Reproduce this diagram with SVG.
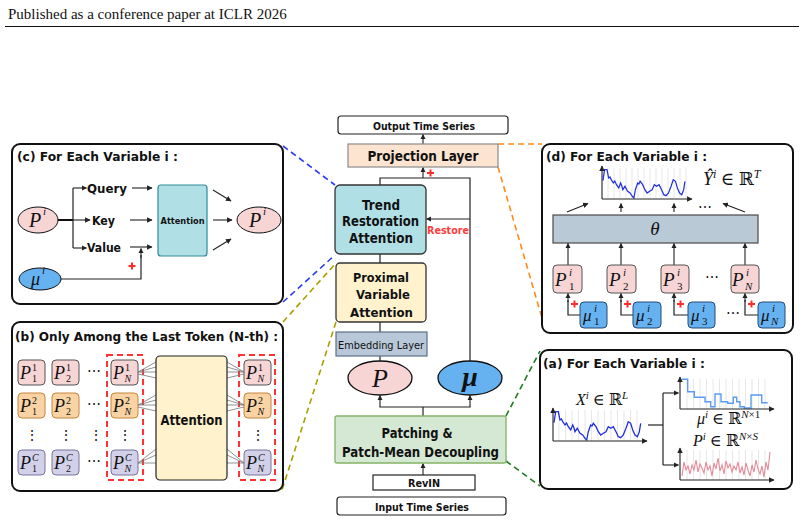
<svg xmlns="http://www.w3.org/2000/svg" width="804" height="522" viewBox="0 0 804 522">
<defs>
<style>
.lb{font-family:"DejaVu Sans",sans-serif;font-weight:bold;fill:#111;text-anchor:middle}
.tt{font-family:"DejaVu Sans",sans-serif;font-weight:bold;fill:#111}
.tx{font-family:"DejaVu Sans",sans-serif;fill:#111;text-anchor:middle}
.m{font-family:"Liberation Serif","DejaVu Serif",serif;fill:#111}
.mi{font-family:"Liberation Serif","DejaVu Serif",serif;font-style:italic;fill:#111}
.ln{stroke:#222;stroke-width:1.2;fill:none}
.ar{stroke:#222;stroke-width:1.1;fill:none;marker-end:url(#ah)}
.frame{fill:#fff;stroke:#111;stroke-width:2}
.plus{stroke:#ff2a2a;stroke-width:2}
.grid{stroke:#ddd;stroke-width:0.7}
.fan{stroke:#777;stroke-width:0.8}
.rd{fill:none;stroke:#ff3333;stroke-width:2;stroke-dasharray:6 4}
.pk{fill:#f8d5d5;stroke:#555;stroke-width:1}
.or{fill:#f9d3a3;stroke:#c4863a;stroke-width:1}
.lv{fill:#d3d1ea;stroke:#76749e;stroke-width:1}
.bl{fill:#66b2f0;stroke:#234a78;stroke-width:1}
</style>
<marker id="ah" viewBox="0 0 10 10" refX="9" refY="5" markerWidth="5" markerHeight="5" orient="auto"><path d="M0,0 L10,5 L0,10 z" fill="#222"/></marker>
<path id="wave" d="M554,422.7 L555.7,411.7 L558.3,411.7 L560,420 L561.5,419 L562.7,421.7 L565,425 L566.5,423 L568.3,426.7 L570.7,430 L572.7,425 L574,428 L575,431.7 L577.3,428.3 L580,433.3 L582.7,435 L585,438.3 L586.7,440 L588.3,431.7 L590.7,425 L592,426 L593.3,423.3 L596,426.7 L598.3,431.7 L600.7,435 L603.3,433.3 L606,431.7 L608.3,426.7 L610.7,428.3 L613.3,426.7 L616,431.7 L618.3,436.7 L620.7,437.7 L623.3,435 L626,428.3 L628.3,421.7 L630.7,423.3 L632.7,430 L635,435 L637.3,436.7 L639.3,431.7 L640.7,423.3"/>
</defs>
<rect width="804" height="522" fill="#fff"/>

<g id="header">
<text x="8" y="19" font-family="Liberation Serif,serif" font-size="15" fill="#111">Published as a conference paper at ICLR 2026</text>
<line x1="5" y1="26.5" x2="799" y2="26.5" stroke="#111" stroke-width="1"/>
</g>

<g id="connectors">
<line class="ar" x1="423" y1="144" x2="423" y2="134.5"/>
<polyline class="ln" points="380,185 380,178 470,178 470,362"/>
<line class="ar" x1="423" y1="178" x2="423" y2="167.5"/>
<line class="plus" x1="427" y1="173" x2="434" y2="173"/><line class="plus" x1="430.5" y1="169.5" x2="430.5" y2="176.5"/>
<line class="ar" x1="470" y1="219" x2="426.5" y2="219"/>
<line class="ln" x1="380" y1="254" x2="380" y2="263"/>
<line class="ln" x1="380" y1="322" x2="380" y2="332"/>
<line class="ln" x1="380" y1="356" x2="380" y2="361"/>
<polyline class="ln" points="423,416 423,407"/>
<line class="ln" x1="379.4" y1="407" x2="470.6" y2="407"/>
<line class="ar" x1="380" y1="407" x2="380" y2="395.5"/>
<line class="ar" x1="470" y1="407" x2="470" y2="395.5"/>
<line class="ar" x1="423" y1="475" x2="423" y2="463.5"/>
<line x1="283" y1="146" x2="335" y2="185" stroke="#2a3cf0" stroke-width="1.6" stroke-dasharray="6 4"/>
<line x1="283" y1="302" x2="335" y2="255" stroke="#2a3cf0" stroke-width="1.6" stroke-dasharray="6 4"/>
<line x1="283" y1="322" x2="336" y2="263" stroke="#a8a000" stroke-width="1.6" stroke-dasharray="6 4"/>
<line x1="336" y1="322" x2="282" y2="490" stroke="#a8a000" stroke-width="1.6" stroke-dasharray="6 4"/>
<line x1="498" y1="144" x2="542" y2="144" stroke="#ff8a1a" stroke-width="1.6" stroke-dasharray="6 4"/>
<line x1="498" y1="167" x2="542" y2="318" stroke="#ff8a1a" stroke-width="1.6" stroke-dasharray="6 4"/>
<line x1="506" y1="416" x2="540" y2="351" stroke="#1f7a1f" stroke-width="1.6" stroke-dasharray="6 4"/>
<line x1="506" y1="461" x2="540" y2="486" stroke="#1f7a1f" stroke-width="1.6" stroke-dasharray="6 4"/>
</g>

<g id="output">
<rect x="338" y="116" width="170" height="18" rx="3" fill="#fff" stroke="#222" stroke-width="1.2"/>
<text class="lb" x="424" y="129.5" font-size="10" textLength="102" lengthAdjust="spacingAndGlyphs">Output Time Series</text>
</g>
<g id="projection">
<rect x="348" y="144" width="150" height="23" fill="#fde4d0" stroke="#8a8a8a" stroke-width="1.2"/>
<text class="lb" x="423" y="161" font-size="14" textLength="111" lengthAdjust="spacingAndGlyphs">Projection Layer</text>
</g>
<g id="trend">
<rect x="335" y="185" width="91" height="69" rx="5" fill="#b0e0e6" stroke="#333" stroke-width="1.3"/>
<text class="lb" x="381" y="210" font-size="14" textLength="38" lengthAdjust="spacingAndGlyphs">Trend</text>
<text class="lb" x="380.5" y="226" font-size="14" textLength="77" lengthAdjust="spacingAndGlyphs">Restoration</text>
<text class="lb" x="381" y="243" font-size="14" textLength="64" lengthAdjust="spacingAndGlyphs">Attention</text>
<text x="448" y="234" font-family="DejaVu Sans,sans-serif" font-weight="bold" font-size="11" fill="#ff3b3b" text-anchor="middle" textLength="42" lengthAdjust="spacingAndGlyphs">Restore</text>
</g>
<g id="proximal">
<rect x="336" y="263" width="90" height="59" rx="4" fill="#fff2cc" stroke="#333" stroke-width="1.3"/>
<text class="lb" x="381" y="282" font-size="13" textLength="56" lengthAdjust="spacingAndGlyphs">Proximal</text>
<text class="lb" x="383" y="299" font-size="13" textLength="54" lengthAdjust="spacingAndGlyphs">Variable</text>
<text class="lb" x="381.5" y="317" font-size="13" textLength="63" lengthAdjust="spacingAndGlyphs">Attention</text>
</g>
<g id="embedding">
<rect x="336" y="332" width="91" height="24" fill="#b8c8d8" stroke="#5a6f8a" stroke-width="1.2"/>
<text class="lb" x="381" y="348.5" font-size="10" textLength="86" lengthAdjust="spacingAndGlyphs" style="font-weight:normal">Embedding Layer</text>
</g>
<g id="p-node">
<ellipse cx="380" cy="378" rx="32" ry="17" fill="#f8d5d5" stroke="#111" stroke-width="1.3"/>
<text class="mi" x="380" y="387" font-size="26" text-anchor="middle">P</text>
</g>
<g id="mu-node">
<ellipse cx="470" cy="378" rx="32" ry="17" fill="#66b2f0" stroke="#111" stroke-width="1.3"/>
<text class="mi" x="470" y="386" font-size="28" font-weight="bold" text-anchor="middle">μ</text>
</g>
<g id="patching">
<rect x="335" y="416" width="171" height="47" rx="2" fill="#d5e8d4" stroke="#82b366" stroke-width="1.3"/>
<text class="lb" x="417" y="438" font-size="14" textLength="71" lengthAdjust="spacingAndGlyphs">Patching &amp;</text>
<text class="lb" x="420.5" y="457" font-size="14" textLength="157" lengthAdjust="spacingAndGlyphs">Patch-Mean Decoupling</text>
</g>
<g id="revin">
<rect x="373" y="475" width="102" height="15" fill="#fff" stroke="#222" stroke-width="1.2"/>
<text class="lb" x="424" y="486.5" font-size="10" textLength="32" lengthAdjust="spacingAndGlyphs">RevIN</text>
</g>
<g id="input">
<rect x="337" y="497" width="169" height="18" rx="3" fill="#fff" stroke="#222" stroke-width="1.2"/>
<text class="lb" x="422" y="510.5" font-size="10" textLength="94" lengthAdjust="spacingAndGlyphs">Input Time Series</text>
</g>

<g id="panel-c">
<rect class="frame" x="12" y="144" width="271" height="160" rx="8"/>
<text class="tt" x="17" y="161" font-size="13" textLength="161" lengthAdjust="spacingAndGlyphs">(c) For Each Variable i :</text>
<ellipse cx="38" cy="220" rx="20" ry="13" fill="#f8d5d5" stroke="#111" stroke-width="1"/>
<text class="mi" x="29" y="227" font-size="20">P</text><text class="mi" x="43" y="215" font-size="11">i</text>
<line x1="58" y1="220" x2="73" y2="220" stroke="#111" stroke-width="2"/>
<line class="ln" x1="73" y1="188" x2="73" y2="248"/>
<line class="ar" x1="73" y1="188" x2="86.5" y2="188"/>
<line class="ar" x1="73" y1="220" x2="90" y2="220"/>
<line class="ar" x1="73" y1="248" x2="86.5" y2="248"/>
<text class="tx" x="107" y="193" font-size="13" textLength="40" lengthAdjust="spacingAndGlyphs" style="font-weight:600">Query</text>
<text class="tx" x="103.5" y="225" font-size="13" textLength="23" lengthAdjust="spacingAndGlyphs" style="font-weight:600">Key</text>
<text class="tx" x="104" y="252" font-size="13" textLength="34" lengthAdjust="spacingAndGlyphs" style="font-weight:600">Value</text>
<line class="ar" x1="132" y1="188" x2="152" y2="188"/>
<line class="ar" x1="130" y1="220" x2="152" y2="220"/>
<line class="ar" x1="130" y1="247" x2="152" y2="247"/>
<ellipse cx="40" cy="279" rx="21" ry="11" fill="#66b2f0" stroke="#111" stroke-width="1"/>
<text class="mi" x="31" y="285" font-size="18">μ</text><text class="mi" x="42" y="274" font-size="11">i</text>
<polyline class="ln" points="61,279 141,279 141,255"/>
<line class="ar" x1="141" y1="258" x2="141" y2="248.5"/>
<line class="plus" x1="128.5" y1="266" x2="135.5" y2="266"/><line class="plus" x1="132" y1="262.5" x2="132" y2="269.5"/>
<rect x="158" y="185" width="49" height="71" rx="3" fill="#b0e0e6" stroke="#2e8b99" stroke-width="1.2"/>
<text class="lb" x="182.5" y="224" font-size="9" textLength="44" lengthAdjust="spacingAndGlyphs">Attention</text>
<line class="ar" x1="213" y1="190" x2="231" y2="201"/>
<line class="ar" x1="213" y1="220" x2="232" y2="220"/>
<line class="ar" x1="213" y1="250" x2="231" y2="239"/>
<ellipse cx="259" cy="220" rx="22" ry="13" fill="#f8d5d5" stroke="#111" stroke-width="1"/>
<text class="mi" x="249" y="227" font-size="20">P</text><text class="mi" x="263" y="215" font-size="11">i</text>
</g>

<g id="panel-b">
<rect class="frame" x="12" y="322" width="271" height="169" rx="8"/>
<text class="tt" x="15" y="341" font-size="13" textLength="263" lengthAdjust="spacingAndGlyphs">(b) Only Among the Last Token (N-th) :</text>
<g id="b-cells">
<rect class="pk" x="18" y="360" width="27" height="25" rx="4"/><rect class="pk" x="52" y="360" width="27" height="25" rx="4"/><rect class="pk" x="111" y="360" width="27" height="25" rx="4"/>
<rect class="or" x="18" y="393" width="27" height="25" rx="4"/><rect class="or" x="52" y="393" width="27" height="25" rx="4"/><rect class="or" x="111" y="393" width="27" height="25" rx="4"/>
<rect class="lv" x="18" y="450" width="27" height="25" rx="4"/><rect class="lv" x="52" y="450" width="27" height="25" rx="4"/><rect class="lv" x="111" y="450" width="27" height="25" rx="4"/>
<rect class="pk" x="244" y="360" width="27" height="25" rx="4"/><rect class="or" x="244" y="393" width="27" height="25" rx="4"/><rect class="lv" x="244" y="450" width="27" height="25" rx="4"/>
</g>
<g id="b-labels" font-size="18">
<text class="mi" x="20" y="379">P</text><text class="m" x="32" y="371" font-size="10">1</text><text class="m" x="32" y="382" font-size="10">1</text>
<text class="mi" x="54" y="379">P</text><text class="m" x="66" y="371" font-size="10">1</text><text class="m" x="66" y="382" font-size="10">2</text>
<text class="mi" x="113" y="379">P</text><text class="m" x="125" y="371" font-size="10">1</text><text class="mi" x="124.5" y="382" font-size="10">N</text>
<text class="mi" x="246" y="379">P</text><text class="m" x="258" y="371" font-size="10">1</text><text class="mi" x="257.5" y="382" font-size="10">N</text>
<text class="mi" x="20" y="412">P</text><text class="m" x="32" y="404" font-size="10">2</text><text class="m" x="32" y="415" font-size="10">1</text>
<text class="mi" x="54" y="412">P</text><text class="m" x="66" y="404" font-size="10">2</text><text class="m" x="66" y="415" font-size="10">2</text>
<text class="mi" x="113" y="412">P</text><text class="m" x="125" y="404" font-size="10">2</text><text class="mi" x="124.5" y="415" font-size="10">N</text>
<text class="mi" x="246" y="412">P</text><text class="m" x="258" y="404" font-size="10">2</text><text class="mi" x="257.5" y="415" font-size="10">N</text>
<text class="mi" x="20" y="469">P</text><text class="mi" x="32" y="461" font-size="10">C</text><text class="m" x="32" y="472" font-size="10">1</text>
<text class="mi" x="54" y="469">P</text><text class="mi" x="66" y="461" font-size="10">C</text><text class="m" x="66" y="472" font-size="10">2</text>
<text class="mi" x="113" y="469">P</text><text class="mi" x="125" y="461" font-size="10">C</text><text class="mi" x="124.5" y="472" font-size="10">N</text>
<text class="mi" x="246" y="469">P</text><text class="mi" x="258" y="461" font-size="10">C</text><text class="mi" x="257.5" y="472" font-size="10">N</text>
</g>
<g id="b-dots" class="m" font-size="14" text-anchor="middle">
<text x="94" y="376">⋯</text><text x="94" y="409">⋯</text><text x="94" y="466">⋯</text>
<text x="31.5" y="440">⋮</text><text x="65.5" y="440">⋮</text><text x="96" y="440">⋮</text><text x="124.5" y="440">⋮</text><text x="257.5" y="440">⋮</text>
</g>
<rect class="rd" x="107" y="355" width="36" height="125"/>
<rect class="rd" x="239" y="355" width="36" height="125"/>
<g id="b-fans">
<line class="fan" x1="138" y1="372" x2="156" y2="362"/><line class="fan" x1="138" y1="372" x2="156" y2="367"/><line class="fan" x1="138" y1="372" x2="156" y2="372"/><line class="fan" x1="138" y1="374" x2="156" y2="378"/>
<line class="fan" x1="138" y1="405" x2="156" y2="395"/><line class="fan" x1="138" y1="405" x2="156" y2="400"/><line class="fan" x1="138" y1="405" x2="156" y2="405"/><line class="fan" x1="138" y1="407" x2="156" y2="411"/>
<line class="fan" x1="138" y1="463" x2="156" y2="449"/><line class="fan" x1="138" y1="463" x2="156" y2="455"/><line class="fan" x1="138" y1="463" x2="156" y2="463"/>
<line class="fan" x1="227" y1="362" x2="244" y2="372"/><line class="fan" x1="227" y1="367" x2="244" y2="372"/><line class="fan" x1="227" y1="372" x2="244" y2="372"/><line class="fan" x1="227" y1="378" x2="244" y2="374"/>
<line class="fan" x1="227" y1="395" x2="244" y2="405"/><line class="fan" x1="227" y1="400" x2="244" y2="405"/><line class="fan" x1="227" y1="405" x2="244" y2="405"/><line class="fan" x1="227" y1="411" x2="244" y2="407"/>
<line class="fan" x1="227" y1="449" x2="244" y2="463"/><line class="fan" x1="227" y1="455" x2="244" y2="463"/><line class="fan" x1="227" y1="463" x2="244" y2="463"/>
</g>
<rect x="156" y="356" width="71" height="124" rx="4" fill="#fff2cc" stroke="#222" stroke-width="1.2"/>
<text class="lb" x="191.5" y="425" font-size="14" textLength="62" lengthAdjust="spacingAndGlyphs">Attention</text>
</g>

<g id="panel-d">
<rect class="frame" x="542" y="144" width="251" height="189" rx="8"/>
<text class="tt" x="546" y="161" font-size="13" textLength="161" lengthAdjust="spacingAndGlyphs">(d) For Each Variable i :</text>
<g id="d-chart">
<g class="grid"><line x1="608" y1="168" x2="608" y2="198"/><line x1="614" y1="168" x2="614" y2="198"/><line x1="620" y1="168" x2="620" y2="198"/><line x1="626" y1="168" x2="626" y2="198"/><line x1="632" y1="168" x2="632" y2="198"/><line x1="638" y1="168" x2="638" y2="198"/><line x1="644" y1="168" x2="644" y2="198"/><line x1="650" y1="168" x2="650" y2="198"/><line x1="656" y1="168" x2="656" y2="198"/><line x1="662" y1="168" x2="662" y2="198"/><line x1="668" y1="168" x2="668" y2="198"/><line x1="674" y1="168" x2="674" y2="198"/><line x1="680" y1="168" x2="680" y2="198"/><line x1="686" y1="168" x2="686" y2="198"/></g>
<use href="#wave" transform="translate(602,168) scale(0.946,1) translate(-553,-410)" fill="none" stroke="#1f2fe0" stroke-width="1.3" vector-effect="non-scaling-stroke"/>
<line class="ar" x1="602" y1="199" x2="602" y2="166"/>
<line class="ar" x1="602" y1="199" x2="692" y2="199"/>
</g>
<text class="m" x="703" y="185" font-size="18"><tspan font-style="italic">Ŷ</tspan><tspan font-style="italic" font-size="12" dy="-7">i</tspan><tspan dy="7"> ∈ ℝ</tspan><tspan font-style="italic" font-size="12" dy="-7">T</tspan></text>
<line class="ar" x1="567" y1="212" x2="588" y2="203.5"/>
<line class="ar" x1="621" y1="212" x2="621" y2="203.5"/>
<line class="ar" x1="674" y1="212" x2="674" y2="203.5"/>
<text class="m" x="705" y="212" font-size="14" text-anchor="middle">⋯</text>
<line class="ar" x1="745" y1="212" x2="723" y2="203.5"/>
<rect x="553" y="215" width="205" height="28" fill="#b9c9d6" stroke="#4a4a4a" stroke-width="1.2"/>
<text class="mi" x="655" y="235" font-size="19" text-anchor="middle">θ</text>
<line class="ar" x1="568" y1="265" x2="568" y2="243.5"/>
<line class="ar" x1="621" y1="265" x2="621" y2="243.5"/>
<line class="ar" x1="674" y1="265" x2="674" y2="243.5"/>
<line class="ar" x1="745" y1="265" x2="745" y2="243.5"/>
<rect class="pk" x="553" y="265" width="29" height="28" rx="4"/>
<rect class="pk" x="607" y="265" width="29" height="28" rx="4"/>
<rect class="pk" x="661" y="265" width="28" height="28" rx="4"/>
<rect class="pk" x="731" y="265" width="28" height="28" rx="4"/>
<text class="mi" x="555" y="286" font-size="19">P</text><text class="mi" x="569" y="276" font-size="11">i</text><text class="m" x="569" y="290" font-size="11">1</text>
<text class="mi" x="609" y="286" font-size="19">P</text><text class="mi" x="623" y="276" font-size="11">i</text><text class="m" x="623" y="290" font-size="11">2</text>
<text class="mi" x="663" y="286" font-size="19">P</text><text class="mi" x="677" y="276" font-size="11">i</text><text class="m" x="677" y="290" font-size="11">3</text>
<text class="mi" x="732" y="286" font-size="19">P</text><text class="mi" x="746" y="276" font-size="11">i</text><text class="mi" x="745" y="290" font-size="11">N</text>
<text class="m" x="712" y="282" font-size="14" text-anchor="middle">⋯</text>
<polyline class="ln" points="580,315 568,315 568,300"/><line class="ar" x1="568" y1="302" x2="568" y2="293.5"/>
<polyline class="ln" points="633,315 621,315 621,300"/><line class="ar" x1="621" y1="302" x2="621" y2="293.5"/>
<polyline class="ln" points="688,315 674,315 674,300"/><line class="ar" x1="674" y1="302" x2="674" y2="293.5"/>
<polyline class="ln" points="758,315 745,315 745,300"/><line class="ar" x1="745" y1="302" x2="745" y2="293.5"/>
<g class="plus"><line x1="571" y1="304" x2="578" y2="304"/><line x1="574.5" y1="300.5" x2="574.5" y2="307.5"/><line x1="624" y1="304" x2="631" y2="304"/><line x1="627.5" y1="300.5" x2="627.5" y2="307.5"/><line x1="677" y1="304" x2="684" y2="304"/><line x1="680.5" y1="300.5" x2="680.5" y2="307.5"/><line x1="748" y1="304" x2="755" y2="304"/><line x1="751.5" y1="300.5" x2="751.5" y2="307.5"/></g>
<rect class="bl" x="580" y="302" width="27" height="26" rx="4"/>
<rect class="bl" x="633" y="302" width="28" height="26" rx="4"/>
<rect class="bl" x="688" y="302" width="27" height="26" rx="4"/>
<rect class="bl" x="758" y="302" width="27" height="26" rx="4"/>
<text class="mi" x="583" y="321" font-size="17">μ</text><text class="mi" x="594" y="312" font-size="11">i</text><text class="m" x="594" y="325" font-size="11">1</text>
<text class="mi" x="636" y="321" font-size="17">μ</text><text class="mi" x="647" y="312" font-size="11">i</text><text class="m" x="647" y="325" font-size="11">2</text>
<text class="mi" x="691" y="321" font-size="17">μ</text><text class="mi" x="702" y="312" font-size="11">i</text><text class="m" x="702" y="325" font-size="11">3</text>
<text class="mi" x="761" y="321" font-size="17">μ</text><text class="mi" x="772" y="312" font-size="11">i</text><text class="mi" x="771" y="325" font-size="11">N</text>
<text class="m" x="733" y="318" font-size="14" text-anchor="middle">⋯</text>
</g>

<g id="panel-a">
<rect class="frame" x="540" y="350" width="252" height="139" rx="8"/>
<text class="tt" x="543" y="368" font-size="13" textLength="162" lengthAdjust="spacingAndGlyphs">(a) For Each Variable i :</text>
<text class="m" x="576" y="405" font-size="16"><tspan font-style="italic">X</tspan><tspan font-style="italic" font-size="11" dy="-6">i</tspan><tspan dy="6"> ∈ ℝ</tspan><tspan font-style="italic" font-size="11" dy="-6">L</tspan></text>
<g class="grid"><line x1="559" y1="410" x2="559" y2="441"/><line x1="565.5" y1="410" x2="565.5" y2="441"/><line x1="572" y1="410" x2="572" y2="441"/><line x1="578.5" y1="410" x2="578.5" y2="441"/><line x1="585" y1="410" x2="585" y2="441"/><line x1="591.5" y1="410" x2="591.5" y2="441"/><line x1="598" y1="410" x2="598" y2="441"/><line x1="604.5" y1="410" x2="604.5" y2="441"/><line x1="611" y1="410" x2="611" y2="441"/><line x1="617.5" y1="410" x2="617.5" y2="441"/><line x1="624" y1="410" x2="624" y2="441"/><line x1="630.5" y1="410" x2="630.5" y2="441"/><line x1="637" y1="410" x2="637" y2="441"/></g>
<use href="#wave" fill="none" stroke="#1f2fe0" stroke-width="1.3"/>
<line class="ar" x1="553" y1="441" x2="553" y2="408"/>
<line class="ar" x1="553" y1="441" x2="647" y2="441"/>
<line class="ln" x1="648" y1="425" x2="663" y2="425"/>
<line class="ln" x1="663" y1="393" x2="663" y2="465"/>
<line class="ar" x1="663" y1="393" x2="678.5" y2="393"/>
<line class="ar" x1="663" y1="465" x2="678.5" y2="465"/>
<g class="grid"><line x1="687" y1="379" x2="687" y2="409"/><line x1="693.5" y1="379" x2="693.5" y2="409"/><line x1="700" y1="379" x2="700" y2="409"/><line x1="706.5" y1="379" x2="706.5" y2="409"/><line x1="713" y1="379" x2="713" y2="409"/><line x1="719.5" y1="379" x2="719.5" y2="409"/><line x1="726" y1="379" x2="726" y2="409"/><line x1="732.5" y1="379" x2="732.5" y2="409"/><line x1="739" y1="379" x2="739" y2="409"/><line x1="745.5" y1="379" x2="745.5" y2="409"/><line x1="752" y1="379" x2="752" y2="409"/><line x1="758.5" y1="379" x2="758.5" y2="409"/><line x1="765" y1="379" x2="765" y2="409"/>
<line x1="687" y1="450" x2="687" y2="480"/><line x1="693.5" y1="450" x2="693.5" y2="480"/><line x1="700" y1="450" x2="700" y2="480"/><line x1="706.5" y1="450" x2="706.5" y2="480"/><line x1="713" y1="450" x2="713" y2="480"/><line x1="719.5" y1="450" x2="719.5" y2="480"/><line x1="726" y1="450" x2="726" y2="480"/><line x1="732.5" y1="450" x2="732.5" y2="480"/><line x1="739" y1="450" x2="739" y2="480"/><line x1="745.5" y1="450" x2="745.5" y2="480"/><line x1="752" y1="450" x2="752" y2="480"/><line x1="758.5" y1="450" x2="758.5" y2="480"/><line x1="765" y1="450" x2="765" y2="480"/></g>
<polyline fill="none" stroke="#5a9cf0" stroke-width="1.4" points="681.7,379.3 687.7,379.3 687.7,391.7 694.3,391.7 694.3,397.3 705,397.3 705,401.7 710.7,401.7 710.7,406.7 715,406.7 715,394 721,394 721,401.7 727.7,401.7 727.7,403.3 733.3,403.3 733.3,397.3 736.7,397.3 736.7,401.7 740,401.7 740,406.7 744.3,406.7 744.3,408 751,408 751,395 761.7,395 761.7,402.7 767.7,402.7"/>
<line class="ar" x1="680" y1="409" x2="680" y2="377"/>
<line class="ar" x1="680" y1="409" x2="774" y2="409"/>
<text class="m" x="697" y="424" font-size="16"><tspan font-style="italic">μ</tspan><tspan font-style="italic" font-size="11" dy="-6">i</tspan><tspan dy="6"> ∈ ℝ</tspan><tspan font-size="11" dy="-6"><tspan font-style="italic">N</tspan>×1</tspan></text>
<text class="m" x="693" y="446" font-size="16"><tspan font-style="italic">P</tspan><tspan font-style="italic" font-size="11" dy="-6">i</tspan><tspan dy="6"> ∈ ℝ</tspan><tspan font-size="11" dy="-6"><tspan font-style="italic">N</tspan>×<tspan font-style="italic">S</tspan></tspan></text>
<polyline fill="none" stroke="#e58a99" stroke-width="1.1" points="682,476 684,462 686,470 688,466 690,474 692,465 694,470 696,460 698,472 700,464 702,468 704,473 706,462 708,470 710,466 712,476 714,463 716,469 718,458 720,471 722,465 724,474 726,461 728,468 730,464 732,472 734,466 736,470 738,462 740,473 742,467 744,475 746,463 748,470 750,476 752,465 754,472 756,460 758,469 760,474 762,466 764,477 766,462 768,470 770,452"/>
<line class="ar" x1="680" y1="480" x2="680" y2="448"/>
<line class="ar" x1="680" y1="480" x2="774" y2="480"/>
</g>
</svg>
